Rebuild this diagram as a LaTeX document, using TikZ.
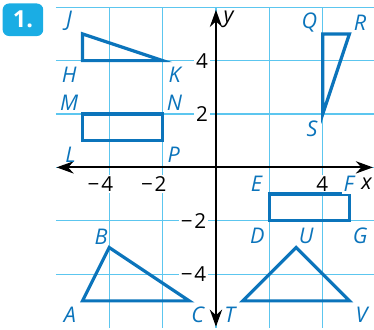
\documentclass[tikz,border=0pt]{standalone}
\usepackage{fontspec}
\setmainfont{Open Sans}
\setsansfont{Open Sans}
\usetikzlibrary{arrows.meta}
\definecolor{gridblue}{HTML}{5CC6EF}
\definecolor{shapeblue}{HTML}{0B74BB}
\definecolor{badgeblue}{HTML}{1AADE4}

\begin{document}
\begin{tikzpicture}[x=5mm,y=5mm,font=\fontsize{11}{13}\selectfont,>={Stealth[length=3.2mm,width=2.3mm]},
  gridline/.style={draw=gridblue,line width=0.7pt},
  axis/.style={line width=1.1pt,<->},
  fig/.style={draw=shapeblue,line width=1.7pt},
  pt/.style={text=shapeblue,font=\fontsize{11.5}{13}\selectfont\itshape,inner sep=1pt},
  num/.style={fill=white,inner sep=1pt},
  badge/.style={fill=badgeblue,rounded corners=1.2mm,text=white,font=\fontsize{12.5}{14}\selectfont\bfseries,minimum width=7.6mm,minimum height=6.1mm,inner sep=0pt}]
  \useasboundingbox (-8.09,-6.06) rectangle (5.92,6.27);
  \draw[gridline] (-6,-6) grid (5.92,6);
  \coordinate (xl) at (-5.97,0);
  \coordinate (xr) at (5.88,0);
  \coordinate (yb) at (0,-5.97);
  \coordinate (yt) at (0,5.9);
  \draw[axis] (xl) -- (xr);
  \draw[axis] (yb) -- (yt);
  \node[font=\fontsize{11.5}{13}\selectfont\itshape] (xlab) at (5.64,-0.6) {x};
  \node[font=\fontsize{11.5}{13}\selectfont\itshape] (ylab) at (0.47,5.55) {y};
  \node[num] (xm4) at (-4.33,-0.62) {−\kern1pt4};
  \node[num] (xm2) at (-2.33,-0.62) {−\kern1pt2};
  \node[num] (x4) at (3.98,-0.62) {4};
  \node[num,anchor=east] (y4) at (-0.22,4) {4};
  \node[num,anchor=east] (y2) at (-0.22,2) {2};
  \node[num,anchor=east] (ym2) at (-0.28,-2) {−\kern1pt2};
  \node[num,anchor=east] (ym4) at (-0.28,-4) {−\kern1pt4};
  \node[badge] (one) at (-7.23,5.53) {1.};

  \coordinate (J) at (-5,5);
  \coordinate (H) at (-5,4);
  \coordinate (K) at (-2,4);
  \coordinate (M) at (-5,2);
  \coordinate (N) at (-2,2);
  \coordinate (P) at (-2,1);
  \coordinate (L) at (-5,1);
  \coordinate (Q) at (4,5);
  \coordinate (R) at (5,5);
  \coordinate (S) at (4,2);
  \coordinate (E) at (2,-1);
  \coordinate (F) at (5,-1);
  \coordinate (G) at (5,-2);
  \coordinate (D) at (2,-2);
  \coordinate (A) at (-5,-5);
  \coordinate (B) at (-4,-3);
  \coordinate (C) at (-1,-5);
  \coordinate (T) at (1,-5);
  \coordinate (U) at (3,-3);
  \coordinate (V) at (5,-5);
  \draw[fig] (J) -- (H) -- (K) -- cycle;
  \draw[fig] (M) -- (N) -- (P) -- (L) -- cycle;
  \draw[fig] (Q) -- (R) -- (S) -- cycle;
  \draw[fig] (E) -- (F) -- (G) -- (D) -- cycle;
  \draw[fig] (A) -- (B) -- (C) -- cycle;
  \draw[fig] (T) -- (U) -- (V) -- cycle;

  \node[pt] (lJ) at (-5.5,5.5) {J};
  \node[pt] (lH) at (-5.5,3.45) {H};
  \node[pt] (lK) at (-1.55,3.45) {K};
  \node[pt] (lM) at (-5.5,2.42) {M};
  \node[pt] (lN) at (-1.55,2.42) {N};
  \node[pt] (lL) at (-5.45,0.47) {L};
  \node[pt] (lP) at (-1.58,0.47) {P};
  \node[pt] (lQ) at (3.5,5.42) {Q};
  \node[pt] (lR) at (5.4,5.42) {R};
  \node[pt] (lS) at (3.6,1.45) {S};
  \node[pt,fill=white] (lE) at (1.52,-0.62) {E};
  \node[pt,fill=white] (lF) at (4.98,-0.62) {F};
  \node[pt] (lD) at (1.55,-2.55) {D};
  \node[pt] (lU) at (3.38,-2.55) {U};
  \node[pt] (lG) at (5.4,-2.55) {G};
  \node[pt] (lB) at (-4.3,-2.6) {B};
  \node[pt] (lA) at (-5.47,-5.52) {A};
  \node[pt] (lC) at (-0.68,-5.52) {C};
  \node[pt] (lT) at (0.52,-5.52) {T};
  \node[pt] (lV) at (5.45,-5.52) {V};
\end{tikzpicture}
\end{document}
